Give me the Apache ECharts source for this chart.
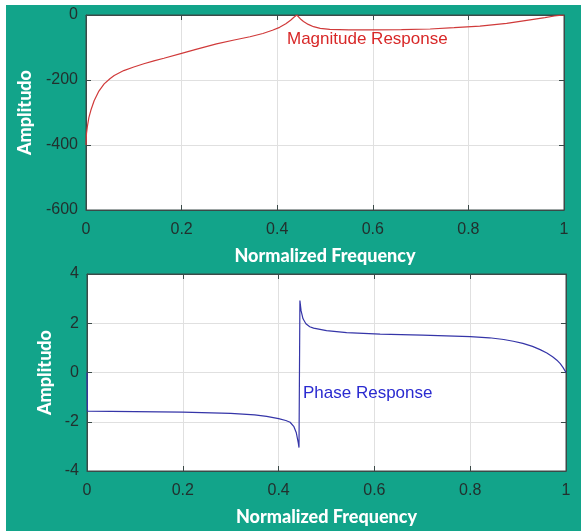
<!DOCTYPE html>
<html><head><meta charset="utf-8">
<script src="https://cdn.jsdelivr.net/npm/echarts@6/dist/echarts.min.js"></script>
<style>html,body{margin:0;padding:0;background:#fff}#c{width:581px;height:531px}</style>
</head><body><div id="c"></div>
<script>
var magFreq = [0,0.001,0.003,0.006,0.01,0.017,0.027,0.038,0.05,0.059,0.079,0.1,0.121,0.142,0.163,0.2,0.23,0.273,0.31,0.343,0.37,0.39,0.405,0.418,0.428,0.435,0.441,0.445,0.45,0.455,0.465,0.476,0.49,0.51,0.55,0.601,0.66,0.72,0.77,0.824,0.88,0.929,0.96,0.98,0.99,1];
var magVals = [-400,-365,-342,-316,-294,-264,-234,-212,-196,-186,-171,-160,-150,-141,-133,-118,-106,-89,-77,-67,-57,-47,-38,-27,-16,-7,0,-6,-14,-20,-29,-36,-41,-44,-46,-46,-45,-43,-39,-34,-26,-15,-8,-3,-1,0];
var phFreq = [0,0.001,0.05,0.1,0.2,0.3,0.35,0.375,0.4,0.415,0.424,0.432,0.437,0.441,0.4426,0.4445,0.447,0.451,0.457,0.465,0.473,0.5,0.542,0.612,0.7,0.8,0.84,0.87,0.89,0.91,0.93,0.946,0.96,0.972,0.981,0.988,0.994,1];
var phVals = [0,-1.57,-1.58,-1.59,-1.61,-1.66,-1.72,-1.78,-1.87,-1.95,-2.02,-2.2,-2.45,-2.85,-3.05,2.92,2.5,2.18,1.98,1.86,1.80,1.70,1.62,1.56,1.52,1.46,1.41,1.34,1.27,1.18,1.06,0.93,0.79,0.64,0.5,0.36,0.2,0];
var xTicks = [0,0.2,0.4,0.6,0.8,1];
var magTicks = [-600,-400,-200,0];
var phTicks = [-4,-2,0,2,4];
var xName = 'Normalized Frequency';
var yName = 'Amplitudo';
var magLabel = 'Magnitude Response';
var phLabel = 'Phase Response';

function pair(a,b){return a.map(function(v,i){return [v,b[i]];});}
var lblFont = 'Liberation Sans, Arial, sans-serif';
var lblColor = '#22302e';
var nameStyle = {color:'#ffffff', fontSize:18, fontWeight:900, fontFamily:'Lato, sans-serif'};
var lineC = '#3b4a48';
function xAx(gi, main){
  return {type:'value', gridIndex:gi, min:xTicks[0], max:xTicks[xTicks.length-1], interval:xTicks[1]-xTicks[0],
    position: main?'bottom':'top',
    name: main?xName:'', nameLocation:'middle', nameGap:37, nameTextStyle:nameStyle,
    axisLine:{show:true, onZero:false, lineStyle:{color:lineC,width:1}},
    axisTick:{show:true, inside:true, length:5, lineStyle:{color:lineC}},
    axisLabel:{show:main, margin:12, color:lblColor, fontSize:16, fontFamily:lblFont},
    splitLine:{show:main, lineStyle:{color:'#e0e0e0'}}};
}
function yAx(gi, main, ticks, gap){
  return {type:'value', gridIndex:gi, min:ticks[0], max:ticks[ticks.length-1], interval:ticks[1]-ticks[0],
    position: main?'left':'right',
    name: main?yName:'', nameLocation:'middle', nameRotate:90, nameGap:gap, nameTextStyle:nameStyle,
    axisLine:{show:true, onZero:false, lineStyle:{color:lineC,width:1}},
    axisTick:{show:true, inside:true, length:5, lineStyle:{color:lineC}},
    axisLabel:{show:main, margin:8, color:lblColor, fontSize:16, fontFamily:lblFont},
    splitLine:{show:main, lineStyle:{color:'#e0e0e0'}}};
}
var chart = echarts.init(document.getElementById('c'), null, {renderer:'canvas'});
chart.setOption({
  backgroundColor:'#12a48a',
  animation:false,
  grid:[
    {left:86, top:15, width:478, height:195, show:true, backgroundColor:'#ffffff', borderColor:lineC, borderWidth:1},
    {left:87, top:274, width:479, height:197, show:true, backgroundColor:'#ffffff', borderColor:lineC, borderWidth:1}
  ],
  xAxis:[xAx(0,true), xAx(1,true), xAx(0,false), xAx(1,false)],
  yAxis:[yAx(0,true,magTicks,52), yAx(1,true,phTicks,31), yAx(0,false,magTicks,0), yAx(1,false,phTicks,0)],
  series:[
    {type:'line', xAxisIndex:0, yAxisIndex:0, data:pair(magFreq,magVals), showSymbol:false, smooth:false,
     lineStyle:{color:'#d03a3a', width:1.2}, z:5},
    {type:'line', xAxisIndex:1, yAxisIndex:1, data:pair(phFreq,phVals), showSymbol:false, smooth:false,
     lineStyle:{color:'#3535a8', width:1.2}, z:5}
  ],
  graphic:[
    {type:'rect', shape:{x:0,y:0,width:581,height:5}, style:{fill:'#ffffff'}, z:100},
    {type:'rect', shape:{x:0,y:0,width:6,height:531}, style:{fill:'#ffffff'}, z:100},
    {type:'text', left:287, top:31, style:{text:magLabel, fill:'#d82828', fontSize:17, fontFamily:lblFont}, z:50},
    {type:'text', left:303, top:385, style:{text:phLabel, fill:'#2a2ad0', fontSize:17, fontFamily:lblFont}, z:50}
  ]
});
</script></body></html>
